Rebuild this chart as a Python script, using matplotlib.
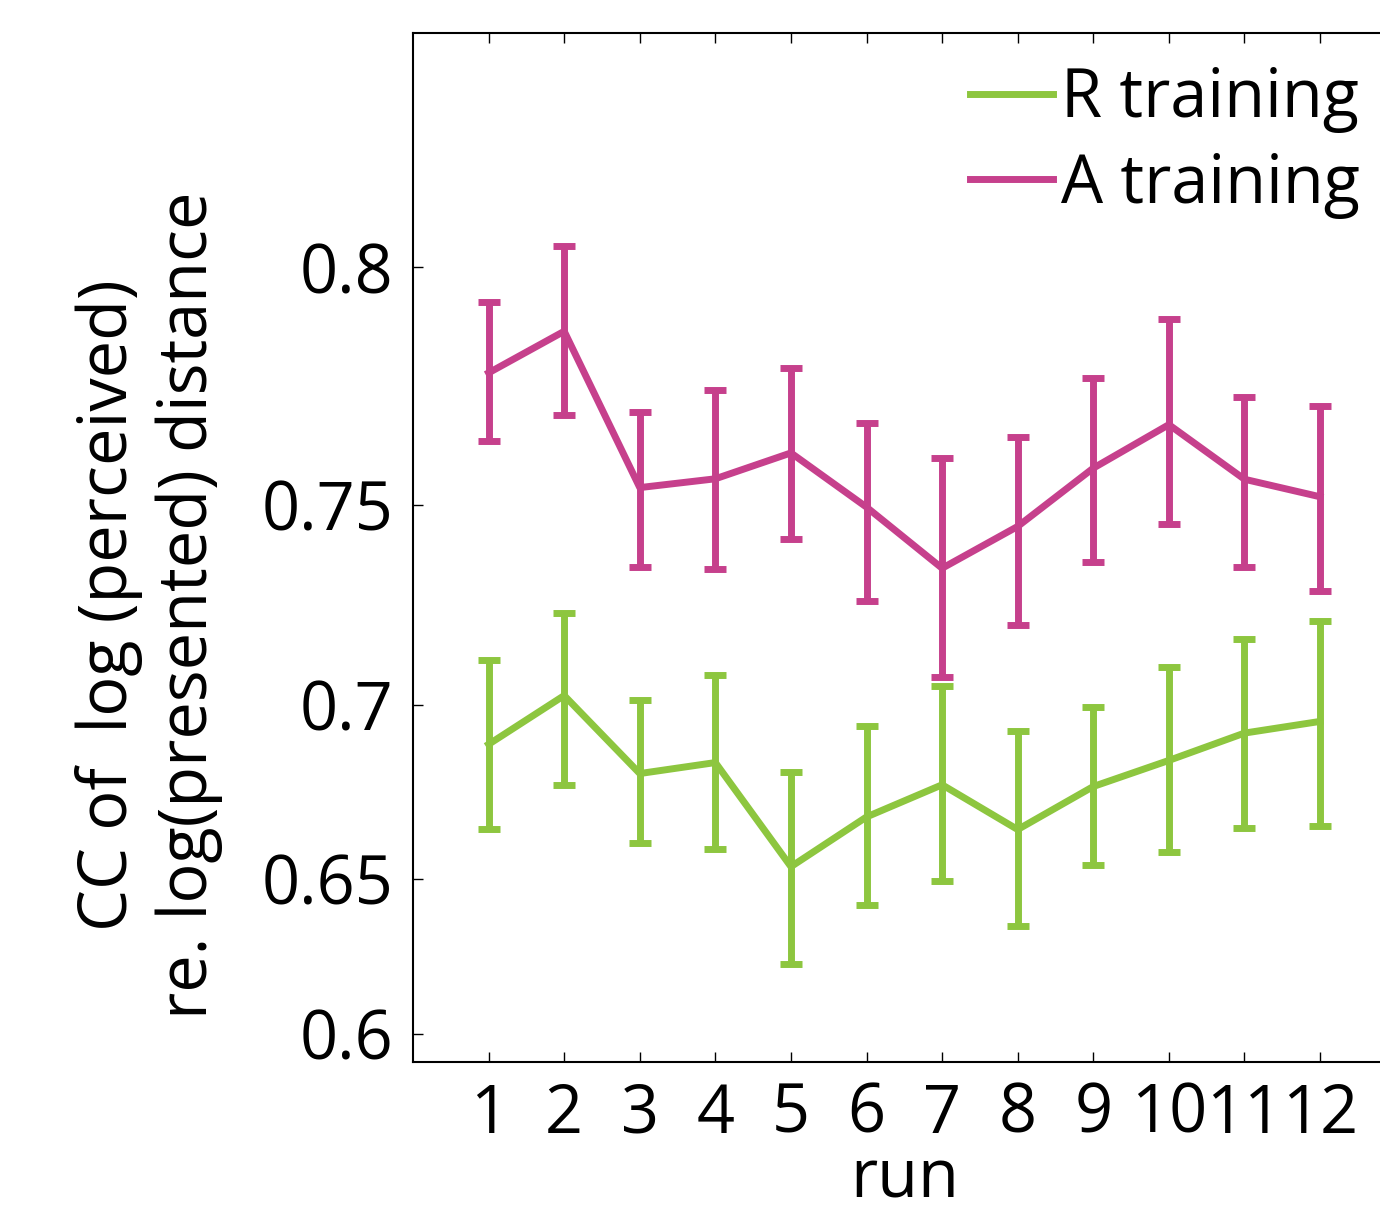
import numpy as np
import matplotlib
matplotlib.use('Agg')
import matplotlib.pyplot as plt
from matplotlib.lines import Line2D

plt.rcParams.update({
    'font.family': ['Open Sans', 'DejaVu Sans'],
    'font.size': 48,
    'axes.linewidth': 1.5,
    'xtick.direction': 'in', 'ytick.direction': 'in',
    'xtick.major.size': 7, 'ytick.major.size': 7,
    'xtick.major.width': 1.0, 'ytick.major.width': 1.0,
})

runs = np.arange(1, 13)

# A training (magenta)
a_mean = [0.779, 0.7875, 0.754, 0.756, 0.7618, 0.7495, 0.735, 0.745, 0.7584, 0.768, 0.7559, 0.7519]
a_hi   = [0.7934, 0.804, 0.7707, 0.7754, 0.780, 0.7684, 0.7606, 0.7654, 0.778, 0.790, 0.774, 0.772]
a_lo   = [0.7644, 0.770, 0.7353, 0.7348, 0.742, 0.727, 0.7075, 0.721, 0.7365, 0.7455, 0.7353, 0.7295]

# R training (green)
r_mean = [0.6892, 0.7025, 0.681, 0.6841, 0.6537, 0.6685, 0.6778, 0.6648, 0.6773, 0.6847, 0.6923, 0.6955]
r_hi   = [0.7118, 0.724, 0.7013, 0.708, 0.6813, 0.6943, 0.705, 0.6929, 0.6994, 0.710, 0.7173, 0.722]
r_lo   = [0.6651, 0.6778, 0.6608, 0.6591, 0.6232, 0.6419, 0.6494, 0.6355, 0.6543, 0.6582, 0.6653, 0.6659]

GREEN = '#8DC63F'
MAGENTA = '#C6408C'


def fz(v):
    return np.arctanh(np.clip(v, -0.9999, 0.9999))


def fz_inv(z):
    return np.tanh(z)


fig = plt.figure(figsize=(13.8, 12.16), dpi=100)
ax = fig.add_axes([0.2993, 0.1266, 0.7120, 0.8463])

# Fisher-z spaced y axis
ax.set_ylim(0.5905, 0.8404)
ax.set_yscale('function', functions=(fz, fz_inv))


def draw(mean, lo, hi, color):
    mean = np.array(mean)
    yerr = np.vstack([mean - np.array(lo), np.array(hi) - mean])
    ax.errorbar(runs, mean, yerr=yerr, color=color, lw=5, elinewidth=5,
                capsize=8, capthick=5)


draw(r_mean, r_lo, r_hi, GREEN)
draw(a_mean, a_lo, a_hi, MAGENTA)

ax.set_xlim(0, 13)
ax.set_ylim(0.5905, 0.8404)
ax.set_xticks(runs)
ax.set_xticklabels([str(r) for r in runs])
ax.set_yticks([0.6, 0.65, 0.7, 0.75, 0.8])
ax.set_yticklabels(['0.6', '0.65', '0.7', '0.75', '0.8'])
ax.minorticks_off()
ax.tick_params(axis='x', top=True, pad=14)
ax.tick_params(axis='y', right=False, pad=14)
ax.spines['right'].set_visible(False)
ax.set_xlabel('run', labelpad=-2)

fig.text(0.108, 0.5025, 'CC of  log (perceived)\nre. log(presented) distance',
         rotation=90, ha='center', va='center', multialignment='center',
         linespacing=1.25)

handles = [Line2D([0], [0], color=GREEN, lw=5, label='R training'),
           Line2D([0], [0], color=MAGENTA, lw=5, label='A training')]
ax.legend(handles=handles, loc='upper right', bbox_to_anchor=(0.9855, 0.946),
          bbox_transform=fig.transFigure, frameon=False,
          handlelength=1.25, handletextpad=0.12, labelspacing=0.27,
          borderaxespad=0, borderpad=0)

fig.savefig('out.png', dpi=100, facecolor='white')
